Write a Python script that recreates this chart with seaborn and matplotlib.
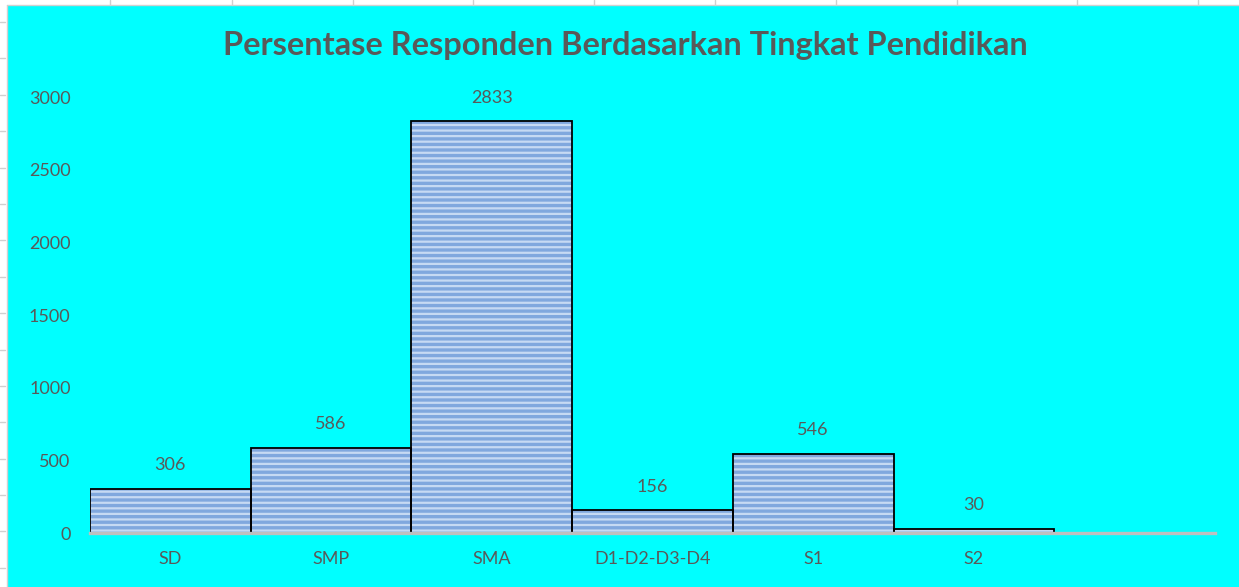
import matplotlib
matplotlib.use("Agg")
import matplotlib.pyplot as plt
import seaborn as sns
import pandas as pd
from matplotlib.lines import Line2D
from matplotlib.patches import Rectangle

categories = ["SD", "SMP", "SMA", "D1-D2-D3-D4", "S1", "S2"]
values = [306, 586, 2833, 156, 546, 30]
yticks = [0, 500, 1000, 1500, 2000, 2500, 3000]
title = "Persentase Responden Berdasarkan Tingkat Pendidikan"

sns.set_theme(style="white")
plt.rcParams["font.family"] = ["Lato", "DejaVu Sans"]
plt.rcParams["hatch.linewidth"] = 1.6

df = pd.DataFrame({"cat": categories, "val": values})
txt = "#595959"
cyan = "#00FFFF"

fig = plt.figure(figsize=(12.39, 5.87), dpi=100, facecolor="white")
# cyan chart area with spreadsheet border strips
fig.patches.append(Rectangle((7/1239, 0), 1 - 7/1239, 1 - 5/587, transform=fig.transFigure,
                             facecolor=cyan, edgecolor="none", zorder=-5))
fig.add_artist(Line2D([7/1239, 7/1239], [0, 1 - 5/587], transform=fig.transFigure, color="#D0D0D0", lw=1, zorder=-4))
fig.add_artist(Line2D([7/1239, 1], [1 - 5/587, 1 - 5/587], transform=fig.transFigure, color="#D0D0D0", lw=1, zorder=-4))
for xp in [110, 232, 353, 473, 594, 715, 836, 957, 1077, 1198]:
    fig.add_artist(Line2D([xp/1239, xp/1239], [1 - 5/587, 1], transform=fig.transFigure, color="#D0D0D0", lw=1, zorder=-4))
for yp in [22, 58, 95, 131, 168, 204, 240, 277, 313, 350, 386, 422, 459, 495, 531, 568]:
    fig.add_artist(Line2D([0, 5/1239], [1 - yp/587, 1 - yp/587], transform=fig.transFigure, color="#D0D0D0", lw=1, zorder=-4))

ax = fig.add_axes([90/1239, 54/587, (1215 - 90)/1239, (533 - 97)/587])
ax.set_zorder(2)
ax.set_facecolor("none")

# striped fill
sns.barplot(data=df, x="cat", y="val", ax=ax, width=1.0, color="#80A8DE",
            saturation=1, edgecolor="#C6DAF3", linewidth=0, hatch="---", zorder=2)
# black outline
sns.barplot(data=df, x="cat", y="val", ax=ax, width=1.0, fill=False,
            edgecolor="black", linewidth=1.3, zorder=3)

ax.set_xlim(-0.5, 6.5)
ax.set_ylim(0, 3000)
ax.set_yticks(yticks)
ax.set_yticklabels([str(t) for t in yticks])
ax.tick_params(axis="y", length=0, pad=14, labelsize=13, labelcolor=txt)
ax.tick_params(axis="x", length=0, pad=13, labelsize=13, labelcolor=txt)
ax.set_xlabel("")
ax.set_ylabel("")
for s in ["top", "right", "left"]:
    ax.spines[s].set_visible(False)
ax.spines["bottom"].set_color("#BFBFBF")
ax.spines["bottom"].set_linewidth(2.4)
ax.spines["bottom"].set_zorder(4)

for i, v in enumerate(values):
    ax.annotate(str(v), (i, v), xytext=(0, 17), textcoords="offset points",
                ha="center", va="center", fontsize=13, color=txt, clip_on=False)

fig.text(625/1239, 1 - 45/587, title, ha="center", va="center",
         fontsize=23.4, fontweight="bold", color=txt)

fig.savefig("out.png", dpi=100, facecolor="white")
